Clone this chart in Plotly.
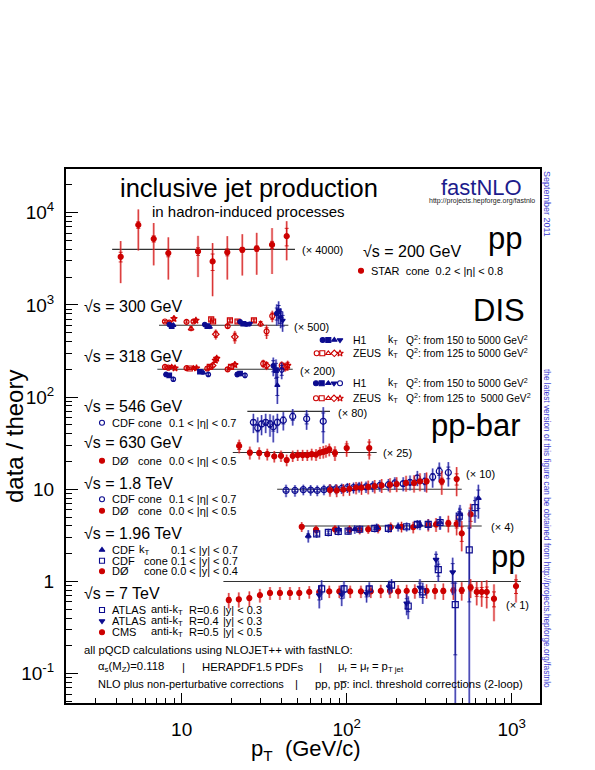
import plotly.graph_objects as go

# ---------------------------------------------------------------------------
# data: jet pT (GeV/c), data/theory ratio, total and statistical uncertainty
# (uncertainties in ratio units). Each data set is multiplied by its scale.
# ---------------------------------------------------------------------------

# pp, sqrt(s) = 200 GeV
STAR_PT = [4.27, 5.46, 6.77, 8.30, 12.56, 15.4, 18.9, 23.3, 28.5, 35.3, 43.3]
STAR_R = [0.83, 1.84, 1.30, 0.91, 0.95, 0.74, 0.93, 0.99, 1.02, 1.12, 1.39]
STAR_TOT = [0.40, 0.87, 0.63, 0.44, 0.45, 0.43, 0.46, 0.47, 0.49, 0.58, 0.63]
STAR_STAT = [0.10, 0.15, 0.10, 0.08, 0.09, 0.15, 0.08, 0.06, 0.07, 0.10, 0.30]

# DIS, sqrt(s) = 300 GeV
ZEUS300_PT = [7.92, 8.41, 8.98, 10.7, 11.4, 11.8, 12.2, 15.1, 15.5, 16.1, 19.0, 19.6,
              21.0, 21.8, 27.4, 30.1, 32.7, 35.4]
ZEUS300_R = [1.10, 1.07, 1.18, 1.09, 0.92, 1.10, 1.13, 1.16, 1.10, 0.80, 0.98, 1.13,
             0.75, 1.10, 1.13, 1.04, 0.86, 1.26]
ZEUS300_TOT = [0.04, 0.04, 0.08, 0.04, 0.06, 0.04, 0.05, 0.06, 0.05, 0.10, 0.05, 0.06,
               0.12, 0.06, 0.06, 0.08, 0.15, 0.18]
ZEUS300_STAT = [0.03, 0.03, 0.05, 0.03, 0.04, 0.03, 0.04, 0.04, 0.04, 0.06, 0.04, 0.04,
                0.07, 0.04, 0.04, 0.06, 0.08, 0.10]
ZEUS300_SET = [0, 0, 4, 0, 2, 0, 4, 1, 1, 3, 0, 1, 3, 1, 1, 2, 0, 0]

H1_300_PT = [8.41, 8.70, 8.90, 13.8, 14.3, 14.8, 22.6, 23.6, 24.8, 25.9, 37.7, 38.7, 39.8, 40.9]
H1_300_R = [1.02, 0.98, 1.00, 1.02, 0.98, 0.96, 1.09, 1.04, 1.02, 1.04, 1.34, 1.42, 1.23, 1.13]
H1_300_TOT = [0.04, 0.04, 0.04, 0.05, 0.05, 0.05, 0.06, 0.06, 0.06, 0.06, 0.35, 0.40, 0.30, 0.28]
H1_300_STAT = [0.02, 0.02, 0.02, 0.03, 0.03, 0.03, 0.04, 0.04, 0.04, 0.04, 0.20, 0.22, 0.18, 0.15]
H1_300_SET = [0, 1, 2, 0, 1, 2, 0, 1, 2, 3, 0, 1, 2, 3]

# DIS, sqrt(s) = 318 GeV
ZEUS318_PT = [7.92, 8.30, 8.70, 9.11, 10.7, 11.2, 11.8, 12.3, 14.3, 14.8, 15.4, 16.0, 16.3,
              19.0, 19.9, 21.0, 31.2, 32.7, 40.4, 42.3, 43.9]
ZEUS318_R = [1.06, 1.04, 1.06, 1.03, 1.03, 1.02, 1.03, 1.03, 1.02, 1.06, 1.10, 1.25, 1.31,
             1.00, 1.06, 1.12, 1.15, 1.10, 1.10, 1.06, 1.10]
ZEUS318_TOT = [0.04, 0.04, 0.04, 0.04, 0.04, 0.04, 0.04, 0.04, 0.05, 0.05, 0.06, 0.08, 0.09,
               0.06, 0.06, 0.08, 0.12, 0.12, 0.12, 0.12, 0.14]
ZEUS318_STAT = [0.03, 0.03, 0.03, 0.03, 0.03, 0.03, 0.03, 0.03, 0.04, 0.04, 0.04, 0.05, 0.06,
                0.04, 0.04, 0.05, 0.08, 0.08, 0.08, 0.08, 0.09]
ZEUS318_SET = [0, 0, 2, 4, 0, 1, 2, 4, 0, 1, 3, 4, 4, 0, 1, 4, 0, 3, 0, 1, 4]

H1_318_PT = [8.03, 8.41, 8.90, 12.9, 13.5, 14.5, 21.7, 22.6, 24.2, 35.9, 37.3, 38.0, 40.4]
H1_318_R = [0.88, 0.86, 0.78, 0.94, 0.92, 0.88, 0.88, 0.90, 0.86, 1.09, 0.98, 0.67, 0.98]
H1_318_TOT = [0.04, 0.04, 0.05, 0.05, 0.05, 0.05, 0.06, 0.06, 0.06, 0.25, 0.30, 0.25, 0.20]
H1_318_STAT = [0.02, 0.02, 0.03, 0.03, 0.03, 0.03, 0.04, 0.04, 0.04, 0.15, 0.18, 0.15, 0.12]
H1_318_SET = [0, 1, 4, 1, 2, 4, 0, 1, 4, 0, 1, 2, 4]

# pp-bar, sqrt(s) = 546 GeV
CDF546_PT = [27.2, 28.9, 30.5, 32.3, 34.3, 35.9, 38.0, 41.3, 47.1, 57.2, 72.1]
CDF546_R = [0.76, 0.66, 0.73, 0.76, 0.73, 0.68, 0.76, 0.80, 0.88, 0.83, 0.78]
CDF546_TOT = [0.18, 0.20, 0.18, 0.18, 0.20, 0.22, 0.18, 0.18, 0.18, 0.20, 0.33]
CDF546_STAT = [0.05, 0.06, 0.05, 0.05, 0.06, 0.07, 0.06, 0.07, 0.08, 0.10, 0.18]

# pp-bar, sqrt(s) = 630 GeV
D0630_PT = [22.3, 25.9, 29.5, 33.0, 36.4, 40.0, 43.3, 47.1, 50.5, 54.1, 57.7, 61.4, 65.2,
            68.9, 72.1, 74.9, 78.4, 84.9, 100, 137]
D0630_R = [1.18, 1.00, 0.99, 0.96, 0.91, 0.92, 0.83, 0.92, 0.94, 0.94, 0.94, 0.96, 0.95,
           1.00, 1.02, 1.04, 1.08, 0.99, 1.12, 1.12]
D0630_TOT = [0.20, 0.16, 0.15, 0.14, 0.13, 0.13, 0.12, 0.13, 0.13, 0.13, 0.13, 0.14, 0.14,
             0.15, 0.16, 0.16, 0.17, 0.18, 0.22, 0.28]
D0630_STAT = [0.10, 0.06, 0.05, 0.05, 0.04, 0.04, 0.04, 0.04, 0.04, 0.04, 0.04, 0.05, 0.05,
              0.05, 0.06, 0.06, 0.07, 0.08, 0.12, 0.18]

# pp-bar, sqrt(s) = 1.8 TeV
CDF18_PT = [42.9, 48.6, 54.6, 60.5, 66.3, 72.8, 79.2, 86.1, 93.3, 101, 110, 119, 131, 144,
            159, 179, 196, 220, 242, 268, 298, 332, 364, 413]
CDF18_R = [0.97, 0.97, 0.99, 0.98, 0.97, 0.99, 1.01, 1.01, 1.02, 1.04, 1.04, 1.06, 1.06, 1.08,
           1.10, 1.12, 1.17, 1.15, 1.19, 1.33, 1.22, 1.36, 1.57, 1.52]
CDF18_TOT = [0.15, 0.14, 0.13, 0.13, 0.13, 0.13, 0.13, 0.13, 0.13, 0.13, 0.14, 0.14, 0.15, 0.15,
             0.16, 0.17, 0.18, 0.20, 0.22, 0.25, 0.28, 0.32, 0.38, 0.45]
CDF18_STAT = [0.03, 0.03, 0.03, 0.03, 0.03, 0.03, 0.03, 0.03, 0.03, 0.03, 0.03, 0.04, 0.04, 0.04,
              0.04, 0.05, 0.05, 0.06, 0.07, 0.08, 0.10, 0.12, 0.16, 0.22]

D018_PT = [79.2, 87.0, 95.4, 104, 114, 123, 135, 148, 163, 183, 201, 229, 256, 278, 305, 377, 464]
D018_R = [0.98, 0.97, 0.99, 1.01, 1.04, 1.04, 1.06, 1.08, 1.10, 1.12, 1.14, 1.17, 1.17, 1.22,
          1.22, 1.22, 1.29]
D018_TOT = [0.15, 0.15, 0.15, 0.16, 0.16, 0.17, 0.18, 0.18, 0.19, 0.20, 0.21, 0.23, 0.25, 0.27,
            0.30, 0.35, 0.45]
D018_STAT = [0.02, 0.02, 0.02, 0.02, 0.02, 0.02, 0.02, 0.02, 0.03, 0.03, 0.03, 0.04, 0.05, 0.06,
             0.07, 0.10, 0.18]

# pp-bar, sqrt(s) = 1.96 TeV
CDFKT_PT = [58.5, 89.4, 112, 152, 205, 278, 368, 486, 628]
CDFKT_R = [0.78, 0.91, 0.92, 0.96, 0.98, 1.03, 1.09, 1.34, 2.00]
CDFKT_TOT = [0.12, 0.10, 0.10, 0.10, 0.11, 0.13, 0.18, 0.35, 0.80]
CDFKT_STAT = [0.04, 0.03, 0.03, 0.03, 0.04, 0.05, 0.08, 0.18, 0.45]

CDFCONE_PT = [65.8, 77.4, 88.9, 102, 120, 148, 179, 231, 268, 312, 368, 481, 553, 599]
CDFCONE_R = [0.82, 0.85, 0.87, 0.88, 0.92, 0.94, 0.94, 0.98, 1.04, 1.04, 1.09, 1.28, 0.55, 1.58]
CDFCONE_TOT = [0.08, 0.08, 0.08, 0.08, 0.09, 0.09, 0.10, 0.11, 0.12, 0.14, 0.18, 0.30, 0.95, 0.50]
CDFCONE_TOT_LO = [0.08, 0.08, 0.08, 0.08, 0.09, 0.09, 0.10, 0.11, 0.12, 0.14, 0.18, 0.30, 0.549, 0.50]
CDFCONE_STAT = [0.03, 0.03, 0.03, 0.03, 0.03, 0.03, 0.04, 0.04, 0.05, 0.06, 0.08, 0.15, 0.40, 0.30]

D0196_PT = [53.4, 65.2, 84.9, 104, 120, 135, 155, 185, 215, 253, 312, 348, 413, 464, 498, 564]
D0196_R = [0.98, 0.91, 0.92, 0.91, 0.91, 0.92, 0.94, 0.97, 0.98, 0.97, 1.03, 1.04, 1.07, 1.05,
           0.83, 1.34]
D0196_TOT = [0.12, 0.10, 0.10, 0.10, 0.10, 0.10, 0.11, 0.12, 0.13, 0.14, 0.16, 0.18, 0.22, 0.26,
             0.30, 0.40]
D0196_STAT = [0.04, 0.03, 0.02, 0.02, 0.02, 0.02, 0.02, 0.03, 0.03, 0.04, 0.05, 0.06, 0.08, 0.10,
              0.15, 0.22]

# pp, sqrt(s) = 7 TeV
CMS_PT = [19.3, 22.2, 25.7, 29.8, 34.3, 39.4, 45.3, 51.6, 59.3, 68.2, 78.4, 90.2, 105, 122, 140,
          161, 183, 205, 231, 259, 305, 343, 385, 443, 498, 564, 614, 658, 706, 781, 1062]
CMS_R = [0.63, 0.64, 0.66, 0.71, 0.75, 0.75, 0.75, 0.75, 0.77, 0.77, 0.78, 0.78, 0.78, 0.78, 0.78,
         0.79, 0.79, 0.78, 0.79, 0.79, 0.79, 0.79, 0.79, 0.80, 0.80, 0.86, 0.77, 0.77, 0.77, 0.65, 0.89]
CMS_TOT = [0.12, 0.12, 0.12, 0.12, 0.12, 0.12, 0.12, 0.12, 0.12, 0.12, 0.12, 0.12, 0.12, 0.12, 0.12,
           0.13, 0.13, 0.13, 0.13, 0.14, 0.14, 0.15, 0.16, 0.17, 0.18, 0.20, 0.22, 0.24, 0.26, 0.28, 0.30]
CMS_STAT = [0.04, 0.03, 0.03, 0.03, 0.03, 0.03, 0.03, 0.03, 0.03, 0.03, 0.03, 0.03, 0.03, 0.03, 0.03,
            0.03, 0.03, 0.03, 0.03, 0.04, 0.04, 0.04, 0.05, 0.05, 0.06, 0.07, 0.08, 0.09, 0.10, 0.12, 0.15]

ATLAS06_PT = [70.5, 96.3, 137, 187, 236, 289, 359, 455]
ATLAS06_R = [0.83, 0.83, 0.83, 0.91, 0.54, 0.77, 1.34, 0.56]
ATLAS06_TOT = [0.20, 0.18, 0.15, 0.15, 0.15, 0.20, 0.35, 0.45]
ATLAS06_TOT_LO = [0.20, 0.18, 0.15, 0.15, 0.15, 0.20, 0.35, 0.559]
ATLAS06_STAT = [0.08, 0.07, 0.06, 0.06, 0.07, 0.10, 0.20, 0.40]

ATLAS04_PT = [68.2, 93.3, 132, 181, 231, 278, 348, 439]
ATLAS04_R = [0.71, 0.72, 0.74, 0.87, 0.58, 0.86, 1.72, 1.26]
ATLAS04_TOT = [0.20, 0.18, 0.15, 0.15, 0.15, 0.20, 0.40, 0.55]
ATLAS04_STAT = [0.08, 0.07, 0.06, 0.06, 0.07, 0.10, 0.25, 0.30]

# offsets applied to each sqrt(s) group and the pT span of its reference line
GROUPS = ['200', '300', '318', '546', '630', '1800', '1960', '7000']
SCALES = [4000, 600, 200, 70, 25, 10, 4, 1]
SCALE_LABELS = ['(× 4000)', '(× 500)', '(× 200)', '(× 80)', '(× 25)', '(× 10)', '(× 4)', '(× 1)']
LINE_PT_MIN = [3.79, 7.29, 7.12, 25.0, 20.4, 37.9, 51.6, 17.9]
LINE_PT_MAX = [48.6, 44.3, 47.1, 79.2, 152, 498, 658, 1138]

# ---------------------------------------------------------------------------
RED = '#cc0000'
RED_LIGHT = 'rgba(235,90,90,0.45)'
BLUE = '#0c0c8f'
BLUE_LIGHT = 'rgba(90,90,210,0.45)'
FONT = 'Liberation Sans, Arial, sans-serif'

H1_SYMBOLS = ['circle', 'square', 'triangle-up', 'triangle-down', 'circle-open']
ZEUS_SYMBOLS = ['circle-open', 'square-open', 'triangle-up-open', 'diamond-open', 'star-open']

# plot frame in pixels (595 x 770 page)
L, R, T, B = 66, 540, 169, 703


def px(x):
    return (x - L) / (R - L)


def py(y):
    return (B - y) / (B - T)


fig = go.Figure()

# reference lines at data/theory = 1 (times offset)
for s, x0, x1 in zip(SCALES, LINE_PT_MIN, LINE_PT_MAX):
    fig.add_trace(go.Scatter(x=[x0, x1], y=[s, s], mode='lines',
                             line=dict(color='#333333', width=1.1),
                             hoverinfo='skip', showlegend=False))


def add_series(pt, ratio, tot, stat, scale, color, light, symbol, size=5, tot_lo=None):
    y = [r * scale for r in ratio]
    up = [e * scale for e in tot]
    lo = [e * scale for e in (tot_lo if tot_lo else tot)]
    st = [e * scale for e in stat]
    # total uncertainty band (light)
    fig.add_trace(go.Scatter(
        x=pt, y=y, mode='markers', marker=dict(size=1, opacity=0),
        error_y=dict(type='data', symmetric=False, array=up, arrayminus=lo,
                     color=light, thickness=2.5, width=0),
        hoverinfo='skip', showlegend=False))
    # thin dark line over the total range
    fig.add_trace(go.Scatter(
        x=pt, y=y, mode='markers', marker=dict(size=1, opacity=0),
        error_y=dict(type='data', symmetric=False, array=up, arrayminus=lo,
                     color=color, thickness=0.8, width=0),
        hoverinfo='skip', showlegend=False))
    # markers with stat. ticks
    fig.add_trace(go.Scatter(
        x=pt, y=y, mode='markers',
        marker=dict(symbol=symbol, size=size, color=color, line=dict(color=color, width=1.2)),
        error_y=dict(type='data', array=st, color=color, thickness=0.8, width=2),
        showlegend=False))


add_series(STAR_PT, STAR_R, STAR_TOT, STAR_STAT, SCALES[0], RED, RED_LIGHT, 'circle', 5)

add_series(ZEUS300_PT, ZEUS300_R, ZEUS300_TOT, ZEUS300_STAT, SCALES[1], RED, RED_LIGHT,
           [ZEUS_SYMBOLS[k] for k in ZEUS300_SET], size=5)
add_series(H1_300_PT, H1_300_R, H1_300_TOT, H1_300_STAT, SCALES[1], BLUE, BLUE_LIGHT,
           [H1_SYMBOLS[k] for k in H1_300_SET], size=4.5)
add_series(ZEUS318_PT, ZEUS318_R, ZEUS318_TOT, ZEUS318_STAT, SCALES[2], RED, RED_LIGHT,
           [ZEUS_SYMBOLS[k] for k in ZEUS318_SET], size=5)
add_series(H1_318_PT, H1_318_R, H1_318_TOT, H1_318_STAT, SCALES[2], BLUE, BLUE_LIGHT,
           [H1_SYMBOLS[k] for k in H1_318_SET], size=4.5)

add_series(CDF546_PT, CDF546_R, CDF546_TOT, CDF546_STAT, SCALES[3], BLUE, BLUE_LIGHT, 'circle-open', 6)
add_series(D0630_PT, D0630_R, D0630_TOT, D0630_STAT, SCALES[4], RED, RED_LIGHT, 'circle', 5)

add_series(CDF18_PT, CDF18_R, CDF18_TOT, CDF18_STAT, SCALES[5], BLUE, BLUE_LIGHT, 'circle-open', 6)
add_series(D018_PT, D018_R, D018_TOT, D018_STAT, SCALES[5], RED, RED_LIGHT, 'circle', 5)

add_series(D0196_PT, D0196_R, D0196_TOT, D0196_STAT, SCALES[6], RED, RED_LIGHT, 'circle', 5)
add_series(CDFKT_PT, CDFKT_R, CDFKT_TOT, CDFKT_STAT, SCALES[6], BLUE, BLUE_LIGHT, 'triangle-up', 5)
add_series(CDFCONE_PT, CDFCONE_R, CDFCONE_TOT, CDFCONE_STAT, SCALES[6], BLUE, BLUE_LIGHT,
           'square-open', 6, tot_lo=CDFCONE_TOT_LO)

add_series(CMS_PT, CMS_R, CMS_TOT, CMS_STAT, SCALES[7], RED, RED_LIGHT, 'circle', 5)
add_series(ATLAS04_PT, ATLAS04_R, ATLAS04_TOT, ATLAS04_STAT, SCALES[7], BLUE, BLUE_LIGHT, 'triangle-down', 5)
add_series(ATLAS06_PT, ATLAS06_R, ATLAS06_TOT, ATLAS06_STAT, SCALES[7], BLUE, BLUE_LIGHT,
           'square-open', 6, tot_lo=ATLAS06_TOT_LO)

# ---------------------------------------------------------------------------
# legend symbols (drawn on an overlay 0..1 axis pair)
legend_marks = [
    # x_px, y_px, symbol, color, size
    (361, 270.7, 'circle', RED, 5),
    (322.7, 340, 'circle', BLUE, 5), (328.3, 340, 'square', BLUE, 5),
    (334.3, 340, 'triangle-up', BLUE, 5), (340, 340, 'triangle-down', BLUE, 5),
    (316.7, 353.3, 'circle-open', RED, 5), (322.3, 353.3, 'square-open', RED, 5),
    (328.3, 353.3, 'triangle-up-open', RED, 5), (334.3, 353.3, 'diamond-open', RED, 5),
    (340, 353.3, 'star-open', RED, 5),
    (316, 383.3, 'circle', BLUE, 5), (321.7, 383.3, 'square', BLUE, 5),
    (328.3, 383.3, 'triangle-up', BLUE, 5), (334, 383.3, 'triangle-down', BLUE, 5),
    (340, 383.3, 'circle-open', BLUE, 5),
    (316, 398.3, 'circle-open', RED, 5), (321.7, 398.3, 'square-open', RED, 5),
    (328.3, 398.3, 'triangle-up-open', RED, 5), (334, 398.3, 'diamond-open', RED, 5),
    (340, 398.3, 'star-open', RED, 5),
    (102, 422.7, 'circle-open', BLUE, 5),
    (102, 460.7, 'circle', RED, 5),
    (102, 499.3, 'circle-open', BLUE, 5),
    (102, 510.7, 'circle', RED, 5),
    (102, 550, 'triangle-up', BLUE, 5),
    (102, 560.7, 'square-open', BLUE, 5),
    (102, 571.3, 'circle', RED, 5),
    (102, 610, 'square-open', BLUE, 5),
    (102, 621, 'triangle-down', BLUE, 5),
    (102, 632.3, 'circle', RED, 5),
]
for xm, ym, sym, col, sz in legend_marks:
    fig.add_trace(go.Scatter(x=[px(xm)], y=[py(ym)], xaxis='x2', yaxis='y2', mode='markers',
                             marker=dict(symbol=sym, size=sz, color=col, line=dict(color=col, width=1.1)),
                             hoverinfo='skip', showlegend=False))

# ---------------------------------------------------------------------------
annotations = []


def txt(s, x, y, size=11, anchor='left', color='black', angle=0):
    annotations.append(dict(text=s, x=px(x), y=py(y), xref='paper', yref='paper',
                            xanchor=anchor, yanchor='middle', showarrow=False,
                            textangle=angle, font=dict(size=size, color=color, family=FONT)))


txt('inclusive jet production', 248.5, 188, 25.5, 'center')
txt('in hadron-induced processes', 248.5, 211, 15, 'center')
txt('fastNLO', 481, 187, 22, 'center', '#1c1c8c')
txt('http://projects.hepforge.org/fastnlo', 482, 200.5, 7, 'center', '#222222')

txt('pp', 486, 238, 31)
txt('DIS', 471, 310, 31)
txt('pp-bar', 429, 425, 31)
txt('pp', 489, 556, 31)

txt('√s = 200 GeV', 361, 251, 16)
txt('√s = 300 GeV', 82, 306.7, 16)
txt('√s = 318 GeV', 82, 356, 16)
txt('√s = 546 GeV', 82, 406, 16)
txt('√s = 630 GeV', 82, 442.7, 16)
txt('√s = 1.8 TeV', 82, 483.3, 16)
txt('√s = 1.96 TeV', 82, 533.3, 16)
txt('√s = 7 TeV', 82, 593.3, 16)

txt('STAR  cone  0.2 < |η| < 0.8', 369, 270.7, 11)

for yrow, name, q in [(340, 'H1', '150 to 5000'), (353.3, 'ZEUS', '125 to 5000'),
                      (383.3, 'H1', '150 to 5000'), (398.3, 'ZEUS', '125 to  5000')]:
    txt(name, 351, yrow, 10.5)
    txt('k<sub>T</sub>', 386, yrow, 10.5)
    txt('Q<sup>2</sup>: from ' + q + ' GeV<sup>2</sup>', 404, yrow, 10.2)

for yrow, name, alg, rng, c2 in [
        (422.7, 'CDF', 'cone', '0.1 < |η| < 0.7', 136),
        (460.7, 'DØ', 'cone', '0.0 < |η| < 0.5', 136),
        (499.3, 'CDF', 'cone', '0.1 < |η| < 0.7', 136),
        (510.7, 'DØ', 'cone', '0.0 < |η| < 0.5', 136)]:
    txt(name, 110, yrow, 11)
    txt(alg, c2, yrow, 11)
    txt(rng, 167, yrow, 11)

for yrow, name, alg, rng, c2 in [
        (550, 'CDF', 'k<sub>T</sub>', '0.1 < |y| < 0.7', 137),
        (560.7, 'CDF', 'cone', '0.1 < |y| < 0.7', 142),
        (571.3, 'DØ', 'cone', '0.0 < |y| < 0.4', 142)]:
    txt(name, 110, yrow, 11)
    txt(alg, c2, yrow, 11)
    txt(rng, 169, yrow, 11)

for yrow, name, rpar, rng in [(610, 'ATLAS', 'R=0.6', '|y| < 0.3'),
                              (621, 'ATLAS', 'R=0.4', '|y| < 0.3'),
                              (632.3, 'CMS', 'R=0.5', '|y| < 0.5')]:
    txt(name, 110, yrow, 11)
    txt('anti-k<sub>T</sub>', 149, yrow, 11)
    txt(rpar, 187, yrow, 11)
    txt(rng, 221, yrow, 11)

for lab, x, y in zip(SCALE_LABELS, [300, 292, 298, 336, 381, 464, 489, 504],
                     [250, 326.7, 371, 413.3, 453.3, 474.3, 526.7, 605]):
    txt(lab, x, y, 11)

txt('all pQCD calculations using NLOJET++ with fastNLO:', 82, 650, 11.3)
txt('α<sub>s</sub>(M<sub>Z</sub>)=0.118', 96, 667.3, 11.3)
txt('|', 183, 667.3, 11.3, 'center')
txt('HERAPDF1.5 PDFs', 200, 667.3, 11.3)
txt('|', 320, 667.3, 11.3, 'center')
txt('μ<sub>r</sub> = μ<sub>f</sub> = p<sub>T jet</sub>', 336, 667.3, 11.3)
txt('NLO plus non-perturbative corrections', 96, 684, 11)
txt('|', 296, 684, 11.3, 'center')
txt('pp, pp\u0305: incl. threshold corrections (2-loop)', 313, 684, 11.3)

txt('September 2011', 547, 204, 9, 'center', '#3a3ad0', 90)
txt('the latest version of this figure can be obtained from http://projects.hepforge.org/fastnlo',
    547, 528, 8.3, 'center', '#3a3ad0', 90)

txt('data / theory', 14, 437, 24, 'center', 'black', -90)
txt('p<sub>T</sub>  (GeV/c)', 249, 750, 22)

# ---------------------------------------------------------------------------
x_minor = [m * 10 ** k for k in range(0, 4) for m in range(2, 10)]
y_minor = [m * 10 ** k for k in range(-2, 5) for m in range(2, 10)]

fig.update_layout(
    width=595, height=770,
    margin=dict(l=L, r=595 - R, t=T, b=770 - B),
    paper_bgcolor='white', plot_bgcolor='white',
    font=dict(family=FONT, color='black'),
    showlegend=False,
    annotations=annotations,
    xaxis=dict(type='log', range=[0.299, 3.1715], showgrid=False, zeroline=False,
               showline=True, linecolor='black', linewidth=2, mirror=True,
               ticks='inside', ticklen=10, tickwidth=1, tickcolor='black',
               tickvals=[10, 100, 1000], ticktext=['10', '10<sup>2</sup>', '10<sup>3</sup>'],
               tickfont=dict(size=19), ticklabelstandoff=8,
               minor=dict(tickvals=x_minor, ticks='inside', ticklen=5, tickcolor='black', showgrid=False)),
    yaxis=dict(type='log', range=[-1.3185, 4.4735], showgrid=False, zeroline=False,
               showline=True, linecolor='black', linewidth=2, mirror=True,
               ticks='inside', ticklen=12, tickwidth=1, tickcolor='black',
               tickvals=[0.1, 1, 10, 100, 1000, 10000],
               ticktext=['10<sup>-1</sup>', '1', '10', '10<sup>2</sup>', '10<sup>3</sup>', '10<sup>4</sup>'],
               tickfont=dict(size=19), ticklabelstandoff=6,
               minor=dict(tickvals=y_minor, ticks='inside', ticklen=6, tickcolor='black', showgrid=False)),
    xaxis2=dict(overlaying='x', range=[0, 1], visible=False, anchor='y2'),
    yaxis2=dict(overlaying='y', range=[0, 1], visible=False, anchor='x2'),
)

# the page body has a default 8px margin; remove it so the figure sits at the window origin
fig.write_html("out.html", config={'displayModeBar': False},
               post_script="document.body.style.margin = '0';")
